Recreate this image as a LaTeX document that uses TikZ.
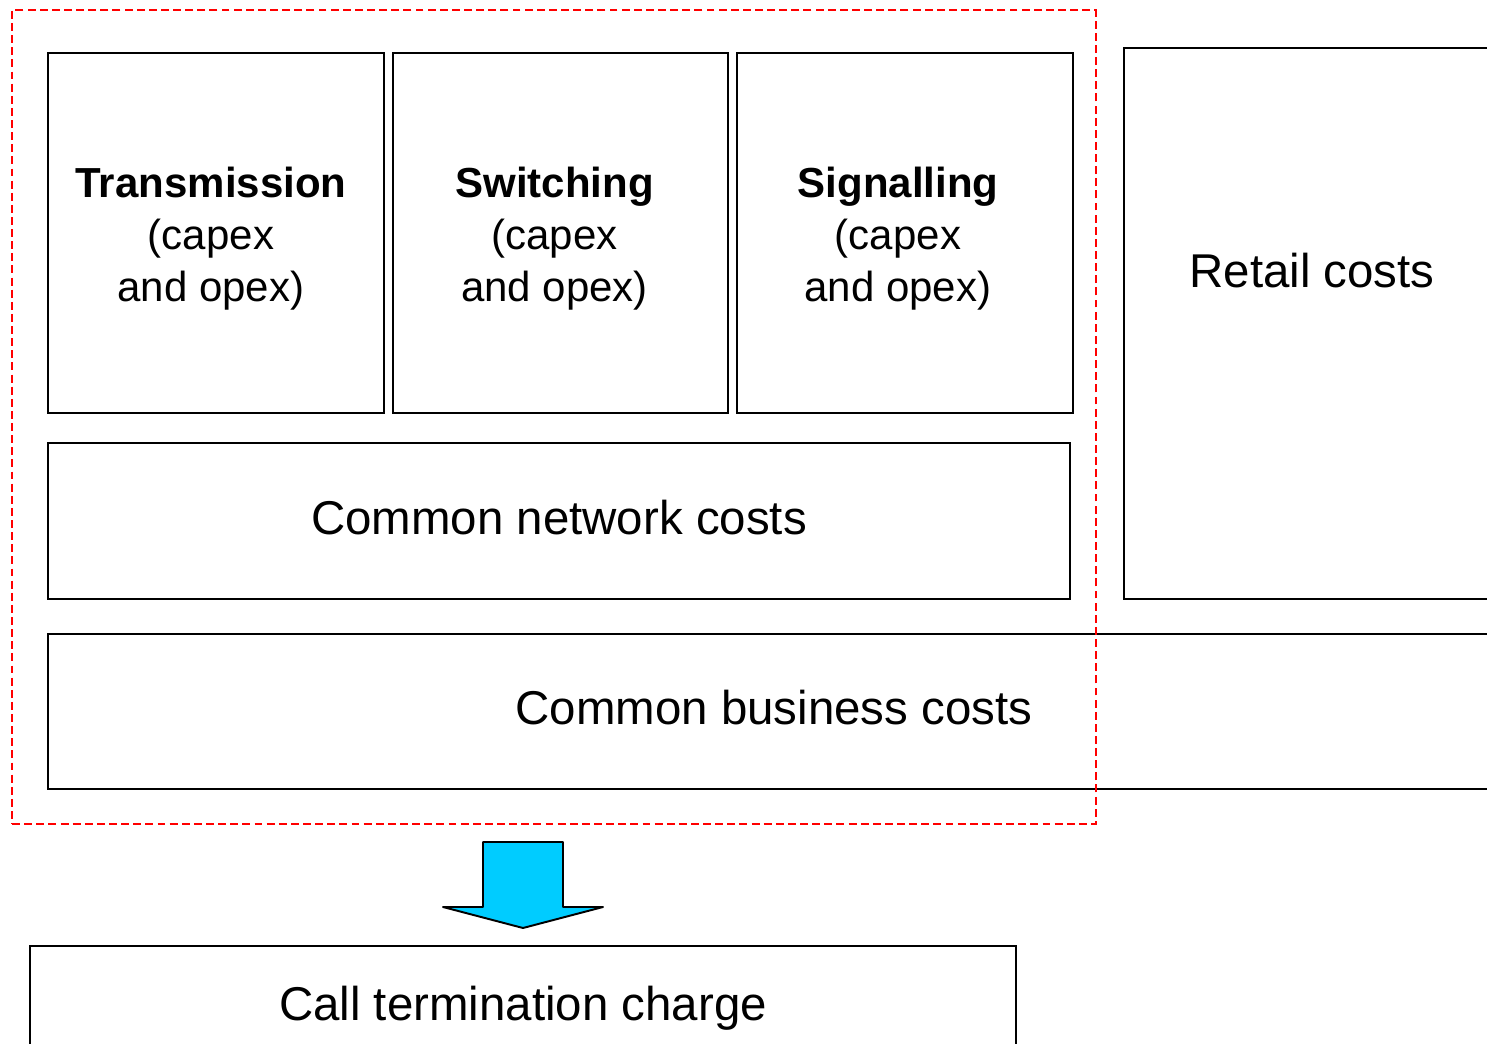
\documentclass[tikz,border=0pt]{standalone}
\usepackage{fontspec}
\setmainfont{Liberation Sans}
\usetikzlibrary{positioning,calc}

\begin{document}
\begin{tikzpicture}[x=0.02cm,y=-0.02cm,
  every node/.style={font=\fontsize{27}{32}\selectfont},
  cell/.style={draw=black,line width=1.1pt,inner sep=0pt,minimum height=7.2cm,minimum width=6.72cm},
  celltext/.style={align=center,inner sep=0pt,yshift=-0.12cm,font=\fontsize{23.9}{29.6}\selectfont},
  wide/.style={draw=black,line width=1.1pt,align=center,inner sep=0pt,minimum height=3.12cm},
  scope/.style={draw=red,line width=1.4pt,dash pattern=on 4.5pt off 2.4pt,inner sep=0pt},
  blk/.style={draw=black,line width=1.1pt,fill={rgb,255:red,0;green,204;blue,255},line join=round}]
\useasboundingbox (0,0) rectangle (1487,1044);
\clip (0,0) rectangle (1487,1044);
\node[cell,label={[celltext,xshift=-0.1cm]center:\textbf{Transmission}\\(capex\\and opex)}] (trans) at (216,233) {};
\node[cell,minimum width=6.7cm,label={[celltext,xshift=-0.12cm]center:\textbf{Switching}\\(capex\\and opex)}] (switch) at (560.5,233) {};
\node[cell,label={[celltext,xshift=-0.14cm]center:\textbf{Signalling}\\(capex\\and opex)}] (signal) at (905,233) {};
\node[wide,minimum width=20.44cm,label={[yshift=0.06cm]center:Common network costs}] (network) at (559,521) {};
\node[wide,minimum width=7.52cm,minimum height=11.02cm,label={[yshift=1.06cm]center:Retail costs}] (retail) at (1312,323.5) {};
\node[wide,minimum width=29.04cm,minimum height=3.1cm,label={[yshift=0.08cm]center:Common business costs}] (business) at (774,711.5) {};
\node[scope,minimum width=21.68cm,minimum height=16.28cm] (core) at (554,417) {};
\node[wide,minimum width=19.72cm,minimum height=2.28cm,label={[yshift=-0.1cm]center:Call termination charge}] (charge) at (523,1003) {};
% block arrow from the cost base down to the charge
\draw[blk] (483,842) -- (563,842) -- (563,907) -- (603,907) -- (523,928)
  -- (443,907) -- (483,907) -- cycle;
\end{tikzpicture}
\end{document}
